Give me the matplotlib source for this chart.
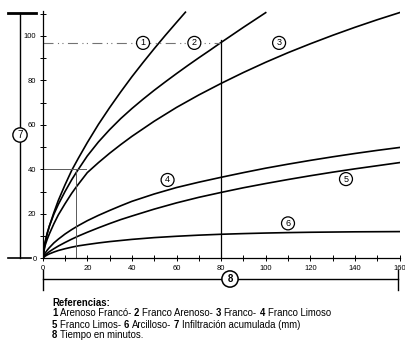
import matplotlib
matplotlib.use("Agg")
import matplotlib.pyplot as plt
from matplotlib.ticker import MultipleLocator

plt.rcParams['font.family'] = ['Liberation Sans', 'DejaVu Sans']

# time (min) vs accumulated infiltration (mm)
t1 = [0, 1, 2, 3, 5, 7, 10, 13, 16, 20, 25, 30, 35, 40, 45, 50, 55, 60, 64]
i1 = [0, 6.5, 11, 14.5, 20.5, 26, 33, 39.5, 45, 52, 60.2, 67.7, 74.8, 81.6, 88, 94.2, 100.2, 106, 110.6]

t2 = [0, 1, 2, 3, 5, 7, 10, 13, 15, 20, 25, 30, 35, 40, 45, 50, 55, 60, 65, 70, 75, 80,
      85, 90, 95, 100]
i2 = [0, 7, 11.2, 14.5, 19.8, 24.2, 30, 35.3, 38.5, 46, 52.3, 57.8, 62.8, 67.3, 71.5, 75.5,
      79.3, 83, 86.6, 90.1, 93.5, 97, 100.4, 103.8, 107.1, 110.4]

t3 = [0, 1, 2, 3, 5, 7, 10, 13, 15, 20, 25, 30, 35, 40, 50, 60, 70, 80, 90, 100, 110,
      120, 130, 140, 150, 160]
i3 = [0, 5.5, 8.5, 11, 15.5, 19.5, 24.5, 29.2, 32, 38.5, 43, 47.2, 51.1, 54.8, 61.6, 67.8,
      73.4, 78.6, 83.5, 88.1, 92.4, 96.4, 100.2, 103.8, 107.2, 110.4]

t456 = [0, 1, 2, 3, 5, 7, 10, 13, 16, 20, 25, 30, 35, 40, 50, 60, 70, 80, 90, 100, 110,
        120, 130, 140, 150, 160]
i4 = [0, 2.2, 3.6, 4.8, 6.9, 8.6, 10.9, 12.9, 14.7, 16.9, 19.3, 21.5, 23.6, 25.6, 28.9,
      31.8, 34.2, 36.4, 38.5, 40.5, 42.3, 44, 45.6, 47.1, 48.5, 49.8]
i5 = [0, 1.3, 2.2, 3, 4.3, 5.5, 7.1, 8.6, 10, 11.7, 13.7, 15.6, 17.4, 19, 22.1, 24.9, 27.4,
      29.6, 31.7, 33.6, 35.4, 37.1, 38.7, 40.2, 41.6, 43]
i6 = [0, 0.9, 1.5, 2, 2.8, 3.5, 4.3, 5, 5.6, 6.2, 6.9, 7.5, 8.0, 8.5, 9.3, 9.9, 10.4, 10.8,
      11.1, 11.35, 11.55, 11.7, 11.8, 11.9, 11.95, 12.0]

curves = [(t1, i1), (t2, i2), (t3, i3), (t456, i4), (t456, i5), (t456, i6)]
# numbered circles on the curves (t, mm)
labels = ["1", "2", "3", "4", "5", "6"]
label_t = [45, 68, 106, 56, 136, 110]
label_i = [96.8, 96.8, 96.8, 35.2, 35.6, 15.7]

# reference lines: (text, bold?) pieces, a space goes between pieces
refs = [
    [("1", True), ("Arenoso Francó-", False), ("2", True), ("Franco Arenoso-", False),
     ("3", True), ("Franco-", False), ("4", True), ("Franco Limoso", False)],
    [("5", True), ("Franco Limos-", False), ("6", True), ("Arcilloso-", False),
     ("7", True), ("Infiltración acumulada (mm)", False)],
    [("8", True), ("Tiempo en minutos.", False)],
]

W, H = 406, 341
fig = plt.figure(figsize=(W / 100, H / 100), dpi=100)
ax = fig.add_axes([42.7 / W, (H - 258.3) / H, (399.5 - 42.7) / W, 247 / H])

for t, v in curves:
    ax.plot(t, v, color="black", lw=1.2, solid_joinstyle="round")

# guide lines
ax.plot([0, 80], [96.8, 96.8], color="0.45", lw=0.8, ls=(0, (9, 4, 1, 3, 1, 4)))
ax.plot([80, 80], [0, 98], color="black", lw=0.9)
ax.plot([15, 15], [0, 40], color="0.35", lw=0.7)
ax.plot([0, 19.5], [40, 40], color="0.35", lw=0.7)
ax.plot([160, 160], [0, 55], color="0.55", lw=0.6, ls=(0, (2, 2)))

for lab, x, y in zip(labels, label_t, label_i):
    ax.text(x, y, lab, fontsize=6.5, ha="center", va="center",
            bbox=dict(boxstyle="circle,pad=0.22", fc="white", ec="black", lw=0.9))

ax.set_xlim(0, 160)
ax.set_ylim(0, 111)
ax.xaxis.set_major_locator(MultipleLocator(20))
ax.xaxis.set_minor_locator(MultipleLocator(10))
ax.yaxis.set_major_locator(MultipleLocator(20))
ax.yaxis.set_minor_locator(MultipleLocator(10))
ax.tick_params(which="both", direction="inout", length=5, width=0.7, labelsize=5.5, pad=2)
for s in ["top", "right"]:
    ax.spines[s].set_visible(False)
for s in ["left", "bottom"]:
    ax.spines[s].set_linewidth(0.9)
ax.patch.set_alpha(0)

# brackets and references, drawn in pixel space of the figure
ov = fig.add_axes([0, 0, 1, 1])
ov.set_xlim(0, W)
ov.set_ylim(H, 0)
ov.axis("off")
ov.patch.set_alpha(0)

ov.plot([20, 20], [12.5, 128], color="black", lw=1.0)
ov.plot([20, 20], [142, 258.3], color="black", lw=1.0)
ov.plot([8, 36], [12.5, 12.5], color="black", lw=2.0)
ov.plot([8, 31], [258.3, 258.3], color="black", lw=1.2)
ov.text(20, 135, "7", fontsize=7, ha="center", va="center",
        bbox=dict(boxstyle="circle,pad=0.22", fc="white", ec="black", lw=1.0))

ov.plot([42.7, 398.5], [278.5, 278.5], color="black", lw=1.0)
ov.plot([42.7, 42.7], [270, 290], color="black", lw=1.0)
ov.plot([398.5, 398.5], [270, 290], color="black", lw=1.0)
ov.text(230, 279, "8", fontsize=7, fontweight="bold", ha="center", va="center",
        bbox=dict(boxstyle="circle,pad=0.32", fc="white", ec="black", lw=1.1))

fs = 6.9
ov.text(52, 302.5, "Referencias:", fontsize=fs, fontweight="bold", va="center")
renderer = fig.canvas.get_renderer()
space_w = fs * 0.278 * 100 / 72  # width of a space in Arial-like fonts, px
for k, line in enumerate(refs):
    x = 52
    for piece, bold in line:
        txt = ov.text(x, 313.5 + 11 * k, piece, fontsize=fs, va="center",
                      fontweight="bold" if bold else "normal")
        x += txt.get_window_extent(renderer).width + space_w

fig.savefig("out.png", dpi=100)
